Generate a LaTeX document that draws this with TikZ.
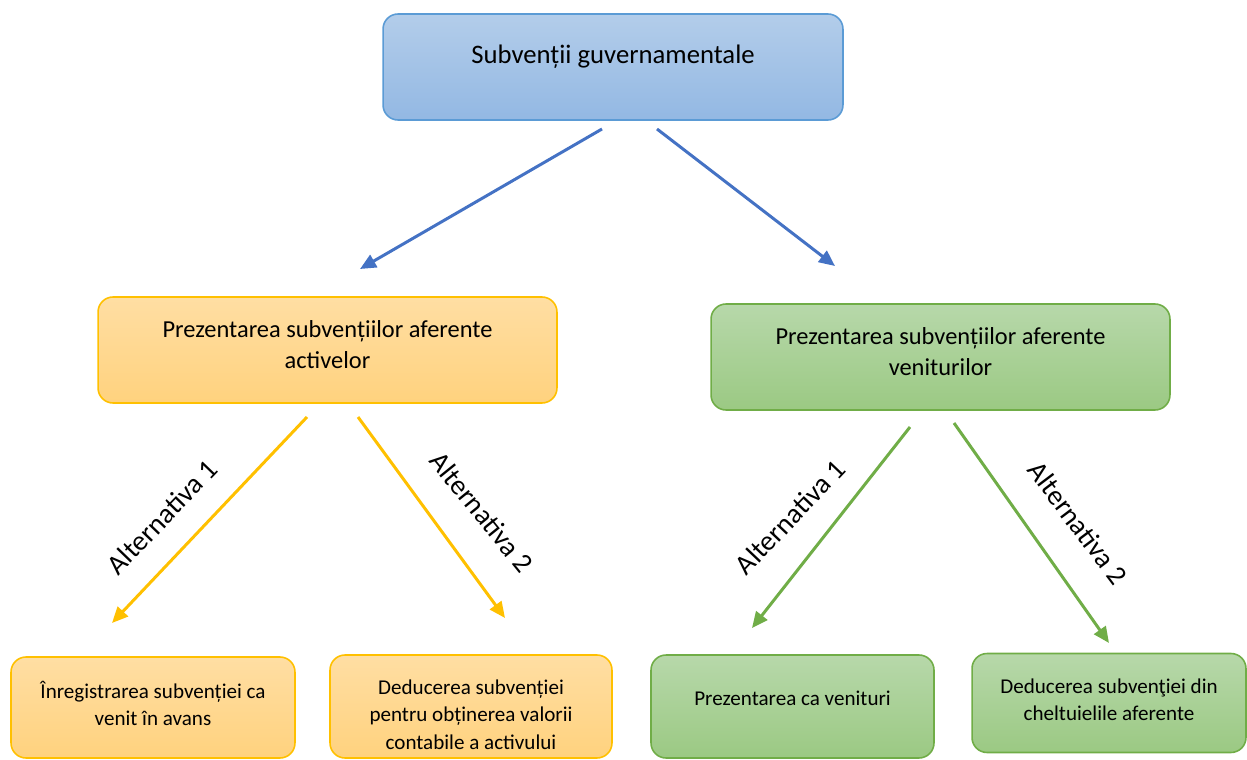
\documentclass[tikz,border=0pt]{standalone}
\usepackage{fontspec}
\setmainfont{Carlito}
\usetikzlibrary{arrows.meta}
\definecolor{bluetop}{HTML}{B3CDEA}
\definecolor{bluebot}{HTML}{93B8E3}
\definecolor{blueedge}{HTML}{5B9BD5}
\definecolor{bluearrow}{HTML}{4472C4}
\definecolor{orangetop}{HTML}{FFDEA3}
\definecolor{orangebot}{HTML}{FFD27E}
\definecolor{orangeedge}{HTML}{FFC000}
\definecolor{greentop}{HTML}{B7D8AA}
\definecolor{greenbot}{HTML}{9BC983}
\definecolor{greenedge}{HTML}{70AD47}
\begin{document}
\begin{tikzpicture}[x=0.02cm,y=-0.02cm,
  box/.style={rectangle, rounded corners=0.3cm, line width=0.9pt, inner sep=0pt, outer sep=0pt},
  bluebox/.style={box, draw=blueedge, top color=bluetop, bottom color=bluebot},
  orangebox/.style={box, draw=orangeedge, top color=orangetop, bottom color=orangebot},
  greenbox/.style={box, draw=greenedge, top color=greentop, bottom color=greenbot},
  topfont/.style={font=\fontsize{15.2}{18.5}\selectfont},
  midfont/.style={font=\fontsize{13.9}{17.6}\selectfont, align=center},
  botfont/.style={font=\fontsize{12}{15.6}\selectfont, align=center},
  conn/.style={line width=1.7pt, -{Triangle[length=0.32cm,width=0.28cm]}},
  alt/.style={font=\fontsize{16}{19}\selectfont, inner sep=0pt}
]
\useasboundingbox (0,0) rectangle (1247,760);
% boxes
\node[bluebox, minimum width=9.2cm, minimum height=2.12cm,
  label={[name=topt, topfont, yshift=0.2cm]center:Subvenții guvernamentale}] (top) at (613,67) {};
\node[orangebox, minimum width=9.18cm, minimum height=2.12cm,
  label={[name=lmt, midfont, yshift=0.11cm]center:Prezentarea subvențiilor aferente\\activelor}] (lm) at (327.5,350) {};
\node[greenbox, minimum width=9.18cm, minimum height=2.12cm,
  label={[name=rmt, midfont, yshift=0.11cm]center:Prezentarea subvențiilor aferente\\veniturilor}] (rm) at (940.5,357) {};
\node[orangebox, minimum width=5.68cm, minimum height=2.02cm,
  label={[name=b1t, botfont, yshift=0.08cm]center:Înregistrarea subvenției ca\\venit în avans}] (b1) at (153,707.5) {};
\node[orangebox, minimum width=5.64cm, minimum height=2.06cm,
  label={[name=b2t, botfont, yshift=-0.16cm]center:Deducerea subvenției\\pentru obținerea valorii\\contabile a activului}] (b2) at (471,706.5) {};
\node[greenbox, minimum width=5.66cm, minimum height=2.06cm,
  label={[name=b3t, botfont, yshift=0.17cm]center:Prezentarea ca venituri}] (b3) at (792.5,706.5) {};
\node[greenbox, minimum width=5.48cm, minimum height=1.98cm,
  label={[name=b4t, botfont, yshift=0.06cm]center:Deducerea subvenţiei din\\cheltuielile aferente}] (b4) at (1109,703) {};
% connector end points
\coordinate (c1s) at (602,129); \coordinate (c1e) at (360,269);
\coordinate (c2s) at (657,129); \coordinate (c2e) at (835,266);
\coordinate (c3s) at (307,417); \coordinate (c3e) at (112,623);
\coordinate (c4s) at (358,417); \coordinate (c4e) at (505,618);
\coordinate (c5s) at (910,427); \coordinate (c5e) at (752,628);
\coordinate (c6s) at (954,423); \coordinate (c6e) at (1109,643);
\draw[conn, bluearrow] (c1s) -- (c1e);
\draw[conn, bluearrow] (c2s) -- (c2e);
\draw[conn, orangeedge] (c3s) -- (c3e);
\draw[conn, orangeedge] (c4s) -- (c4e);
\draw[conn, greenedge] (c5s) -- (c5e);
\draw[conn, greenedge] (c6s) -- (c6e);
% labels
\node[alt, rotate=46] (l1) at (162,517) {Alternativa 1};
\node[alt, rotate=-51] (l2) at (482,512) {Alternativa 2};
\node[alt, rotate=46.5] (l3) at (790,517) {Alternativa 1};
\node[alt, rotate=-53] (l4) at (1078,523) {Alternativa 2};
\end{tikzpicture}
\end{document}
